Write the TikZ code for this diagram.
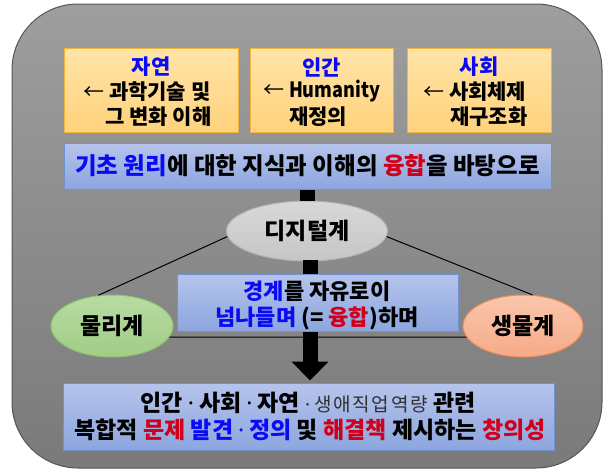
\documentclass[tikz,border=0pt]{standalone}
\usepackage{fontspec}
\usepackage{graphicx}
\setmainfont{Noto Sans CJK KR}
\newfontfamily\latdot{Noto Sans}
\usetikzlibrary{shapes.geometric,calc,arrows.meta}
\definecolor{frameT}{HTML}{9E9E9E}
\definecolor{frameB}{HTML}{7A7A7A}
\definecolor{frameD}{HTML}{555555}
\definecolor{orT}{HTML}{FFE4A8}
\definecolor{orB}{HTML}{FFD27C}
\definecolor{orD}{HTML}{F2B43A}
\definecolor{blT}{HTML}{B6C4EC}
\definecolor{blB}{HTML}{8CA6DE}
\definecolor{blD}{HTML}{7092D2}
\definecolor{conn}{HTML}{5B9BD5}
\definecolor{digT}{HTML}{D8D8D8}
\definecolor{digB}{HTML}{C6C6C6}
\definecolor{grT}{HTML}{B8DBA3}
\definecolor{grB}{HTML}{A0CD84}
\definecolor{grD}{HTML}{8CC26C}
\definecolor{saT}{HTML}{FAC6AC}
\definecolor{saB}{HTML}{F5AB88}
\definecolor{saD}{HTML}{EE8B55}
\definecolor{bt}{HTML}{0A0AF5}
\definecolor{rt}{HTML}{D0001A}
\definecolor{gt}{HTML}{303030}
\newcommand{\B}[1]{{\color{bt}#1}}
\newcommand{\R}[1]{{\color{rt}#1}}
\newcommand{\Dot}{\hspace{5pt}{\latdot\bfseries ·}\hspace{5pt}}
\newcommand{\Arr}{{\mdseries ←}}
\begin{document}
\begin{tikzpicture}[x=1pt,y=-1pt,
  txt/.style={inner sep=0pt,font=\bfseries\fontsize{21}{24}\selectfont},
  ttl/.style={inner sep=0pt,font=\bfseries\fontsize{21}{24}\selectfont,text=bt},
  topbox/.style={draw=orD,line width=1pt,top color=orT,bottom color=orB,minimum height=84pt,inner sep=0pt},
  bluebox/.style={draw=blD,line width=1pt,top color=blT,bottom color=blB,inner sep=0pt},
  oval/.style={ellipse,line width=1pt,inner sep=0pt,font=\bfseries\fontsize{23}{26}\selectfont},
  link/.style={draw=conn,line width=1.6pt},
  thin/.style={draw=black,line width=1pt},
  bigarrow/.style={line width=15pt,-{Triangle[width=36pt,length=19pt]}}]
\useasboundingbox (0,0) rectangle (608,471);
% frame
\node[draw=frameD,line width=1pt,top color=frameT,bottom color=frameB,rounded corners=66pt,
  minimum width=590pt,minimum height=464pt,inner sep=0pt] (frame) at (307,236) {};
% top boxes
\node[topbox,minimum width=174pt] (box1) at (151,90) {};
\node[topbox,minimum width=143pt] (box2) at (321.5,90) {};
\node[topbox,minimum width=144pt] (box3) at (479,90) {};
% band
\node[bluebox,minimum width=487pt,minimum height=46pt] (band) at (307.5,166) {};
% connectors from boxes to band
\draw[link] ($(box1.south)+(-1,0)$) -- ($(box1.south)+(-1,0)$ |- band.north);
\draw[link] ($(box2.south)+(-13.5,0)$) -- ($(box2.south)+(-13.5,0)$ |- band.north);
\draw[link] ($(box3.south)+(-14,0)$) -- ($(box3.south)+(-14,0)$ |- band.north);
% texts in top boxes
\node[ttl] (t1) at (box1.center |- 0,67) {자연};
\node[txt,anchor=west] (t1a) at (83,91.5) {\Arr\ 과학기술 및};
\node[txt,anchor=west] (t1b) at (105,116.5) {그 변화 이해};
\node[ttl] (t2) at (box2.center |- 0,67) {인간};
\node[txt,anchor=west] (t2a) at (263,91.5) {\Arr\ \scalebox{0.86}[1]{Humanity}};
\node[txt,anchor=west] (t2b) at (289,116.5) {재정의};
\node[ttl] (t3) at (box3.center |- 0,67) {사회};
\node[txt,anchor=west] (t3a) at (423,91.5) {\Arr\ 사회체제};
\node[txt,anchor=west] (t3b) at (450,116.5) {재구조화};
% band text
\node[txt,font=\bfseries\fontsize{23.5}{26}\selectfont] (bandtxt) at (band.center) {\B{기초 원리}에 대한 지식과 이해의 \R{융합}을 바탕으로};
% digital ellipse
\node[oval,draw=digB!90!black,top color=digT,bottom color=digB,minimum width=161pt,minimum height=60pt] (dig) at (307,231) {디지털계};
\draw[line width=15pt] (band.south -| dig.north) -- (dig.north);
% side ellipses
\node[oval,draw=grD,top color=grT,bottom color=grB,minimum width=122pt,minimum height=62pt] (phys) at (112,326) {물리계};
\node[oval,draw=saD,top color=saT,bottom color=saB,minimum width=120pt,minimum height=62pt] (bio) at (523,326) {생물계};
% bottom box
\node[bluebox,minimum width=491pt,minimum height=67pt] (bot) at (308.5,416.5) {};
% lines
\draw[thin] (dig.184) -- (phys.114);
\draw[thin] (dig.-4) -- (bio.73);
\draw[thin] (phys.-11) -- (bio.191);
% big arrow
\draw[bigarrow] ($(dig.south)+(3,-2)$) -- ($(bot.north)+(1.5,-2)$);
% middle box
\node[bluebox,minimum width=281pt,minimum height=57pt] (mid) at (317.5,302.5) {};
\node[txt,font=\bfseries\fontsize{22}{25}\selectfont] (m1) at (317,291) {\B{경계}를 자유로이};
\node[txt,font=\bfseries\fontsize{22}{25}\selectfont] (m2) at (317,318) {\B{넘나들며} (= \R{융합})하며};
% bottom text
\node[txt,font=\bfseries\fontsize{23}{25}\selectfont] (b1) at (308,403) {인간\Dot 사회\Dot 자연 {\mdseries\fontsize{19}{20}\selectfont\color{gt}{\latdot ·}\hspace{4pt}\addfontfeatures{LetterSpace=9}생애직업역량} 관련};
\node[txt,font=\bfseries\fontsize{23}{25}\selectfont] (b2) at (310,430) {복합적 \R{문제} \B{발견\Dot 정의} 및 \R{해결책} 제시하는 \R{창의성}};
\end{tikzpicture}
\end{document}
